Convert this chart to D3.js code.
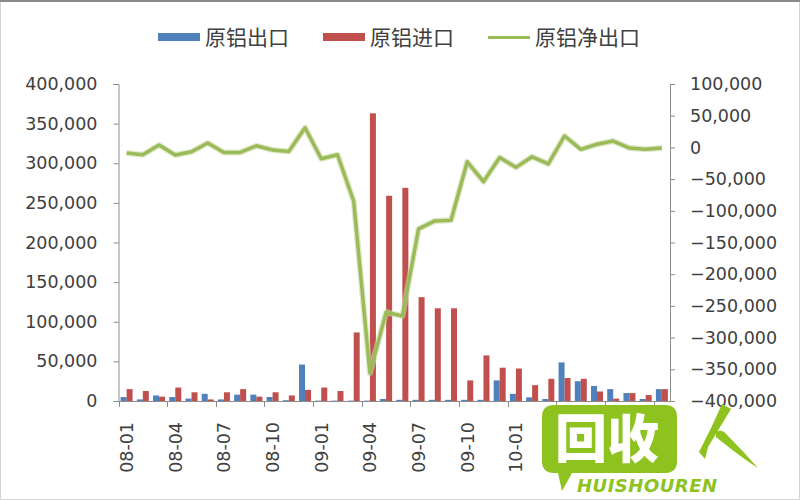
<!DOCTYPE html>
<html><head><meta charset="utf-8">
<script src="https://cdn.jsdelivr.net/npm/d3@7"></script>
<style>
html,body{margin:0;padding:0;background:#fff;}
svg{display:block;}
</style></head>
<body>
<svg id="chart" width="800" height="500"></svg>
<script>
// ---- data ----
const categories = ["08-01","08-02","08-03","08-04","08-05","08-06","08-07","08-08","08-09","08-10","08-11","08-12",
  "09-01","09-02","09-03","09-04","09-05","09-06","09-07","09-08","09-09","09-10","09-11","09-12",
  "10-01","10-02","10-03","10-04","10-05","10-06","10-07","10-08","10-09","10-10"];
const exportVals = [5000,2000,7000,5000,3000,9000,2000,8000,8000,5000,1000,46000,
  500,500,500,500,2500,1500,1500,1500,1500,1500,1500,26000,
  9000,4600,2500,48700,25000,19000,15000,10000,2500,15000];
const importVals = [15000,12600,5500,17000,11000,2000,11000,15000,5500,11000,7000,14000,
  17000,12600,86500,363000,259000,269000,131000,117000,117000,26000,57500,42000,
  41000,20000,28000,29000,28000,12000,3000,10000,7500,15000];
const netVals = [-9000,-11600,3600,-12000,-7000,7000,-8000,-8000,2500,-4000,-6400,31000,
  -18000,-11600,-85000,-356000,-260000,-266000,-128500,-116000,-115000,-22700,-54000,-16000,
  -31500,-14800,-26000,18000,-3000,5000,10000,-1000,-3000,-1000];
const leftTicks = [0,50000,100000,150000,200000,250000,300000,350000,400000];
const rightTicks = [-400000,-350000,-300000,-250000,-200000,-150000,-100000,-50000,0,50000,100000];
const seriesNames = ["原铝出口","原铝进口","原铝净出口"];
const colors = ["#4F81BD","#C0504D","#9BBB59"];

// ---- layout ----
const svg = d3.select("#chart");
const L = 118.5, R = 670, T = 84, B = 401;
const textColor = "#404040", axisColor = "#8c8c8c";
const numFont = "DejaVu Sans", cjkFont = "'Noto Sans CJK SC'";

// frame
svg.append("rect").attr("x",0.5).attr("y",0.5).attr("width",799).attr("height",499)
  .attr("fill","#fff").attr("stroke","#d4d4d4");
svg.append("line").attr("x1",0).attr("x2",800).attr("y1",1).attr("y2",1)
  .attr("stroke","#8a8a8a").attr("stroke-width",2);

const x = d3.scaleBand().domain(categories).range([L, R]).paddingInner(0).paddingOuter(0);
const bw = x.bandwidth();
const groupW = 12;
const x1 = d3.scaleBand().domain(["exp","imp"]).range([(bw-groupW)/2,(bw+groupW)/2]).padding(0);
const yL = d3.scaleLinear().domain([0,400000]).range([B,T]);
const yR = d3.scaleLinear().domain([-400000,100000]).range([B,T]);
const fmt = d3.format(",");

// bars
const g = svg.append("g");
g.selectAll("rect.exp").data(exportVals).join("rect").attr("class","exp")
  .attr("x",(d,i)=>x(categories[i])+x1("exp")).attr("width",x1.bandwidth())
  .attr("y",d=>yL(d)).attr("height",d=>B-yL(d)).attr("fill",colors[0]);
g.selectAll("rect.imp").data(importVals).join("rect").attr("class","imp")
  .attr("x",(d,i)=>x(categories[i])+x1("imp")).attr("width",x1.bandwidth())
  .attr("y",d=>yL(d)).attr("height",d=>B-yL(d)).attr("fill",colors[1]);

// left axis
const axL = svg.append("g").attr("transform",`translate(${L},0)`)
  .call(d3.axisLeft(yL).tickValues(leftTicks).tickFormat(fmt).tickSize(5).tickPadding(16));
// right axis
const axR = svg.append("g").attr("transform",`translate(${R},0)`)
  .call(d3.axisRight(yR).tickValues(rightTicks).tickFormat(fmt).tickSize(5).tickPadding(15));
[axL,axR].forEach(a=>{
  a.select(".domain").attr("stroke",axisColor);
  a.selectAll(".tick line").attr("stroke",axisColor);
  a.selectAll("text").attr("fill",textColor).style("font-family",numFont).style("font-size","17.5px");
});

// bottom axis
const labelCats = categories.filter((c,i)=>i%3===0);
const axB = svg.append("g").attr("transform",`translate(0,${B})`)
  .call(d3.axisBottom(x).tickValues(labelCats).tickSize(0).tickPadding(0));
axB.select(".domain").attr("stroke",axisColor).attr("d",`M${L},0.5H${R}`);
axB.selectAll("text").attr("fill",textColor).style("font-family",numFont).style("font-size","17.5px")
  .attr("transform","rotate(-90)").attr("x",-21).attr("y",0).attr("dy","0.36em").style("text-anchor","end");
axB.selectAll(".tickmark").data(labelCats).join("line").attr("class","tickmark")
  .attr("x1",d=>Math.round(x(d))+0.5).attr("x2",d=>Math.round(x(d))+0.5)
  .attr("y1",0).attr("y2",6).attr("stroke",axisColor);

// net line
const line = d3.line().x((d,i)=>x(categories[i])+bw/2).y(d=>yR(d));
svg.append("path").datum(netVals).attr("d",line).attr("fill","none")
  .attr("stroke","#c9d9a6").attr("stroke-width",6).attr("stroke-linejoin","round").attr("opacity",0.6);
svg.append("path").datum(netVals).attr("d",line).attr("fill","none")
  .attr("stroke",colors[2]).attr("stroke-width",3.5).attr("stroke-linejoin","round");

// legend
const lg = svg.append("g");
const legendX = [158, 323, 488];
seriesNames.forEach((n,i)=>{
  if(i<2){
    lg.append("rect").attr("x",legendX[i]).attr("y",33).attr("width",42).attr("height",8).attr("fill",colors[i]);
  } else {
    lg.append("line").attr("x1",legendX[i]).attr("x2",legendX[i]+42).attr("y1",37.5).attr("y2",37.5)
      .attr("stroke",colors[i]).attr("stroke-width",3);
  }
  lg.append("text").attr("x",legendX[i]+47).attr("y",37).attr("dy","0.36em").text(n)
    .attr("fill",textColor).style("font-family",cjkFont).style("font-size","21px");
});

// watermark
const wm = svg.append("g");
const wg = "#8DC21F";
wm.append("path").attr("fill",wg)
  .attr("d","M554,405H665Q677,405 677,417V461Q677,473 665,473H572L562,491L558,473H554Q542,473 542,461V417Q542,405 554,405Z");
wm.append("text").attr("x",607).attr("y",458).attr("text-anchor","middle").text("回收")
  .attr("fill","#fff").style("font-family",cjkFont).style("font-weight",900).style("font-size","52px");
wm.append("text").attr("x",577).attr("y",492).text("HUISHOUREN").attr("textLength",140)
  .attr("fill",wg).style("font-family","'DejaVu Sans'").style("font-weight","bold").style("font-style","italic").style("font-size","18px");
wm.append("path").attr("fill",wg).attr("d","M722,404L731,409L708,447L705,459L699,452L712,426Z");
wm.append("path").attr("fill",wg).attr("d","M716,432Q722,428 728,436Q744,452 758,468Q742,458 716,437Z");
</script>
</body></html>
